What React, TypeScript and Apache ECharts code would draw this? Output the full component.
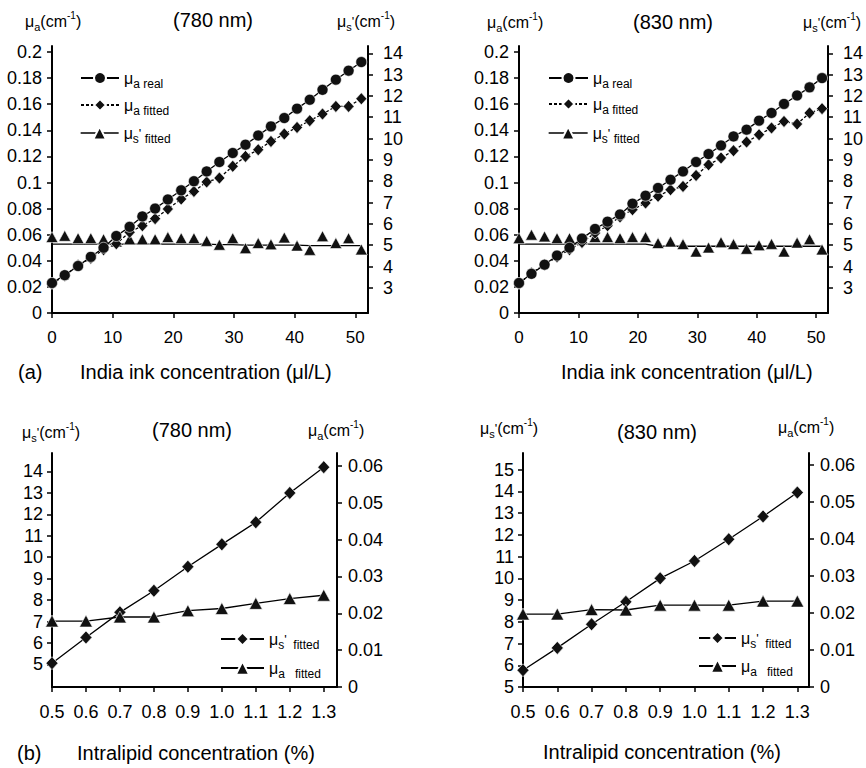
import React, { useEffect, useRef } from "react";
import * as echarts from "echarts";

// ---------- data ----------
const inkConc = [0, 2.1, 4.3, 6.4, 8.5, 10.6, 12.8, 14.9, 17, 19.1, 21.3, 23.4, 25.5, 27.6, 29.8, 31.9, 34, 36.1, 38.3, 40.4, 42.5, 44.6, 46.8, 48.9, 51];

const muaReal780 = [0.023, 0.029, 0.036, 0.043, 0.05, 0.059, 0.066, 0.074, 0.08, 0.087, 0.094, 0.101, 0.1085, 0.1157, 0.1226, 0.129, 0.136, 0.143, 0.1494, 0.1566, 0.1634, 0.171, 0.1788, 0.1857, 0.1923];
const muaFit780 = [0.0225, 0.0286, 0.0365, 0.042, 0.0485, 0.0531, 0.0618, 0.0669, 0.0723, 0.0797, 0.0873, 0.0932, 0.1004, 0.1034, 0.1124, 0.12, 0.1251, 0.1315, 0.1372, 0.1422, 0.1474, 0.1525, 0.1583, 0.1583, 0.1642];
const musFit780 = [5.38, 5.44, 5.33, 5.33, 5.28, 5.17, 5.28, 5.28, 5.28, 5.38, 5.33, 5.33, 5.2, 5.02, 5.33, 4.86, 5.1, 5.04, 5.36, 4.98, 4.78, 5.42, 5.1, 5.33, 4.8];
const musLine780 = [5.05, 5.05, 5.05, 5.05, 5.05, 5.05, 5.05, 5.05, 5.05, 5.05, 5.05, 5.05, 5.05, 5.03, 5.03, 5.0, 5.0, 5.0, 5.0, 5.0, 4.98, 4.98, 4.98, 4.98, 4.98];

const muaReal830 = [0.023, 0.03, 0.037, 0.044, 0.05, 0.057, 0.0644, 0.07, 0.0755, 0.0838, 0.0899, 0.0958, 0.1021, 0.1085, 0.1157, 0.1218, 0.1284, 0.1353, 0.1405, 0.1474, 0.1533, 0.1602, 0.1667, 0.1729, 0.18];
const muaFit830 = [0.0225, 0.0307, 0.037, 0.0429, 0.0485, 0.0541, 0.0613, 0.0669, 0.0736, 0.0792, 0.0843, 0.0894, 0.0945, 0.097, 0.1054, 0.1136, 0.1188, 0.1244, 0.131, 0.1366, 0.1418, 0.1468, 0.1448, 0.1533, 0.1566];
const musFit830 = [5.33, 5.49, 5.41, 5.33, 5.33, 5.28, 5.38, 5.38, 5.33, 5.38, 5.38, 5.1, 5.17, 5.05, 4.7, 4.89, 5.14, 5.05, 4.83, 5.0, 5.06, 4.7, 5.12, 5.28, 4.8];
const musLine830 = [5.05, 5.05, 5.05, 5.05, 5.05, 5.05, 5.05, 5.05, 5.05, 5.05, 5.05, 4.95, 4.95, 4.95, 4.95, 4.95, 4.95, 4.95, 4.95, 4.95, 4.95, 4.95, 4.95, 4.95, 4.95];

const lipidConc = [0.5, 0.6, 0.7, 0.8, 0.9, 1.0, 1.1, 1.2, 1.3];
const musFitLipid780 = [5.06, 6.26, 7.43, 8.44, 9.56, 10.6, 11.63, 13.0, 14.2];
const muaFitLipid780 = [0.0179, 0.0179, 0.019, 0.019, 0.0207, 0.0213, 0.0227, 0.024, 0.0249];
const musFitLipid830 = [5.77, 6.8, 7.89, 8.92, 10.0, 10.8, 11.8, 12.85, 13.95];
const muaFitLipid830 = [0.0197, 0.0197, 0.0209, 0.0208, 0.0221, 0.0221, 0.0221, 0.0232, 0.0232];

// tick labels
const inkTicks = [0, 10, 20, 30, 40, 50];
const muaInkTicks = [0, 0.02, 0.04, 0.06, 0.08, 0.1, 0.12, 0.14, 0.16, 0.18, 0.2];
const musInkTicks = [3, 4, 5, 6, 7, 8, 9, 10, 11, 12, 13, 14];
const lipidTicks = [0.5, 0.6, 0.7, 0.8, 0.9, 1.0, 1.1, 1.2, 1.3];
const musLipidTicks780 = [5, 6, 7, 8, 9, 10, 11, 12, 13, 14];
const musLipidTicks830 = [5, 6, 7, 8, 9, 10, 11, 12, 13, 14, 15];
const muaLipidTicks = [0, 0.01, 0.02, 0.03, 0.04, 0.05, 0.06];

// ---------- styling ----------
const FONT = "'Liberation Sans', Arial, sans-serif";
const BLACK = "#000";

const zip = (xs: number[], ys: number[]) => xs.map((x, i) => [x, ys[i]]);
const fmt2 = (v: number) => String(+(+v).toFixed(3));
const fmt1 = (v: number) => (+v).toFixed(1);

function xAxisCfg(gridIndex: number, min: number, max: number, ticks: number[], formatter: any, margin: number, fontSize: number) {
  return {
    type: "value",
    gridIndex,
    min,
    max,
    axisLine: { show: true, onZero: false, lineStyle: { color: BLACK, width: 2 } },
    axisTick: { show: true, length: 5, lineStyle: { color: BLACK, width: 1.5 }, customValues: ticks },
    axisLabel: { customValues: ticks, formatter, color: BLACK, fontSize, fontFamily: FONT, margin },
    splitLine: { show: false },
  };
}

function yAxisCfg(gridIndex: number, position: string, min: number, max: number, ticks: number[], formatter: any, margin: number) {
  return {
    type: "value",
    gridIndex,
    position,
    min,
    max,
    axisLine: { show: true, onZero: false, lineStyle: { color: BLACK, width: 2 } },
    axisTick: { show: true, length: 5, lineStyle: { color: BLACK, width: 1.5 }, customValues: ticks },
    axisLabel: { customValues: ticks, formatter, color: BLACK, fontSize: 18, fontFamily: FONT, margin },
    splitLine: { show: false },
  };
}

const legendRich = {
  m: { fontSize: 16, fontFamily: FONT, color: BLACK, lineHeight: 24, verticalAlign: "middle" },
  s: { fontSize: 12, fontFamily: FONT, color: BLACK, lineHeight: 12, verticalAlign: "bottom" },
  q: { fontSize: 13, fontFamily: FONT, color: BLACK, lineHeight: 24, verticalAlign: "middle" },
};

const legendLabels: Record<string, string> = {
  tl_real: "{m|μ}{s|a real}",
  tl_fit: "{m|μ}{s|a fitted}",
  tl_mus: "{m|μ}{s|s}{q|'}{s| fitted}",
  tr_real: "{m|μ}{s|a real}",
  tr_fit: "{m|μ}{s|a fitted}",
  tr_mus: "{m|μ}{s|s}{q|'}{s| fitted}",
  bl_mus: "{m|μ}{s|s}{q|'}{s|  fitted}",
  bl_mua: "{m|μ}{s|a   fitted}",
  br_mus: "{m|μ}{s|s}{q|'}{s|  fitted}",
  br_mua: "{m|μ}{s|a   fitted}",
};

function legendCfg(name: string, left: number, top: number, itemWidth: number, itemHeight: number, solidLine = false) {
  const cfg: any = {
    data: [name],
    left,
    top,
    orient: "vertical",
    itemWidth,
    itemHeight,
    selectedMode: false,
    padding: 0,
    formatter: (n: string) => legendLabels[n],
    textStyle: { rich: legendRich, color: BLACK },
  };
  if (solidLine) cfg.lineStyle = { width: 1.3, color: BLACK, type: "solid", opacity: 1 };
  return cfg;
}

const titleRich = {
  m: { fontSize: 16, fontFamily: FONT, fill: BLACK, lineHeight: 22, verticalAlign: "middle" },
  n: { fontSize: 16, fontFamily: FONT, fill: BLACK, lineHeight: 22, verticalAlign: "middle" },
  s: { fontSize: 11, fontFamily: FONT, fill: BLACK, lineHeight: 11, verticalAlign: "bottom" },
  p: { fontSize: 10, fontFamily: FONT, fill: BLACK, lineHeight: 10, verticalAlign: "top" },
  q: { fontSize: 13, fontFamily: FONT, fill: BLACK, lineHeight: 22, verticalAlign: "middle" },
};
const MUA_UNIT = "{m|μ}{s|a}{n|(cm}{p|-1}{n|)}";
const MUS_UNIT = "{m|μ}{s|s}{q|'}{n|(cm}{p|-1}{n|)}";

function richText(x: number, y: number, text: string, align = "left") {
  return { type: "text", x, y, style: { text, rich: titleRich, align, verticalAlign: "middle", fill: BLACK } };
}
function plainText(x: number, y: number, text: string, fontSize: number, align = "left") {
  return {
    type: "text",
    x,
    y,
    style: { text, fontSize, fontFamily: FONT, fill: BLACK, align, verticalAlign: "middle" },
  };
}

function lineSeries(name: string, xi: number, yi: number, data: number[][], symbol: string, symbolSize: any, dashed: any, extra: any = {}) {
  return {
    type: "line",
    name,
    xAxisIndex: xi,
    yAxisIndex: yi,
    data,
    symbol,
    symbolSize,
    showSymbol: true,
    lineStyle: { color: BLACK, width: 1.3, type: dashed },
    itemStyle: { color: "#111", borderColor: "#fff", borderWidth: 0.6 },
    emphasis: { disabled: true },
    z: 3,
    ...extra,
  };
}

function buildOption() {
  return {
    animation: false,
    backgroundColor: "#fff",
    grid: [
      { left: 52, top: 46, width: 316, height: 267 },
      { left: 519, top: 46, width: 315, height: 267 },
      { left: 52, top: 453, width: 285, height: 234 },
      { left: 523, top: 453, width: 286, height: 234 },
    ],
    xAxis: [
      xAxisCfg(0, 0, 52.1, inkTicks, (v: number) => String(v), 16, 17),
      xAxisCfg(1, 0, 52.0, inkTicks, (v: number) => String(v), 16, 17),
      xAxisCfg(2, 0.5, 1.339, lipidTicks, fmt1, 16, 18),
      xAxisCfg(3, 0.5, 1.334, lipidTicks, fmt1, 16, 18),
    ],
    yAxis: [
      yAxisCfg(0, "left", 0, 0.2046, muaInkTicks, fmt2, 10),
      yAxisCfg(0, "right", 1.82, 14.34, musInkTicks, (v: number) => String(v), 15),
      yAxisCfg(1, "left", 0, 0.2046, muaInkTicks, fmt2, 10),
      yAxisCfg(1, "right", 1.82, 14.34, musInkTicks, (v: number) => String(v), 15),
      yAxisCfg(2, "left", 3.95, 14.86, musLipidTicks780, (v: number) => String(v), 9),
      yAxisCfg(2, "right", 0, 0.0635, muaLipidTicks, fmt2, 11),
      yAxisCfg(3, "left", 5, 15.77, musLipidTicks830, (v: number) => String(v), 9),
      yAxisCfg(3, "right", 0, 0.0632, muaLipidTicks, fmt2, 11),
    ],
    legend: [
      legendCfg("tl_real", 80, 70, 38, 15),
      legendCfg("tl_fit", 80, 97, 38, 15),
      legendCfg("tl_mus", 80, 125, 38, 16, true),
      legendCfg("tr_real", 548, 70, 39, 15),
      legendCfg("tr_fit", 548, 96, 39, 15),
      legendCfg("tr_mus", 548, 125, 39, 16, true),
      legendCfg("bl_mus", 220, 631, 43, 16),
      legendCfg("bl_mua", 220, 660, 43, 17),
      legendCfg("br_mus", 698, 630, 37, 16),
      legendCfg("br_mua", 698, 658, 37, 17),
    ],
    series: [
      // (a) 780 nm
      lineSeries("baseTL", 0, 1, zip(inkConc, musLine780), "none", 0, "solid", { z: 2 }),
      lineSeries("tl_mus", 0, 1, zip(inkConc, musFit780), "triangle", [12, 11], "solid", { lineStyle: { width: 0, color: BLACK } }),
      lineSeries("tl_fit", 0, 0, zip(inkConc, muaFit780), "diamond", [11, 12], [3, 2]),
      lineSeries("tl_real", 0, 0, zip(inkConc, muaReal780), "circle", 11, "solid", { z: 4 }),
      // (a) 830 nm
      lineSeries("baseTR", 1, 3, zip(inkConc, musLine830), "none", 0, "solid", { z: 2 }),
      lineSeries("tr_mus", 1, 3, zip(inkConc, musFit830), "triangle", [12, 11], "solid", { lineStyle: { width: 0, color: BLACK } }),
      lineSeries("tr_fit", 1, 2, zip(inkConc, muaFit830), "diamond", [11, 12], [3, 2]),
      lineSeries("tr_real", 1, 2, zip(inkConc, muaReal830), "circle", 11, "solid", { z: 4 }),
      // (b) 780 nm
      lineSeries("bl_mus", 2, 4, zip(lipidConc, musFitLipid780), "diamond", [12, 13], "solid"),
      lineSeries("bl_mua", 2, 5, zip(lipidConc, muaFitLipid780), "triangle", [13, 12], "solid"),
      // (b) 830 nm
      lineSeries("br_mus", 3, 6, zip(lipidConc, musFitLipid830), "diamond", [12, 13], "solid"),
      lineSeries("br_mua", 3, 7, zip(lipidConc, muaFitLipid830), "triangle", [13, 12], "solid"),
    ],
    graphic: [
      // top-left
      richText(25, 21, MUA_UNIT),
      plainText(213, 20, "(780 nm)", 20, "center"),
      richText(337, 21, MUS_UNIT),
      plainText(18, 372, "(a)", 20),
      plainText(80, 372, "India ink concentration (μl/L)", 20),
      // top-right
      richText(487, 22, MUA_UNIT),
      plainText(673, 22, "(830 nm)", 20, "center"),
      richText(803, 22, MUS_UNIT),
      plainText(561, 372, "India ink concentration (μl/L)", 20),
      // bottom-left
      richText(22, 432, MUS_UNIT),
      plainText(192, 430, "(780 nm)", 20, "center"),
      richText(308, 430, MUA_UNIT),
      plainText(17, 753, "(b)", 20),
      plainText(77, 753, "Intralipid concentration (%)", 20),
      // bottom-right
      richText(480, 428, MUS_UNIT),
      plainText(657, 432, "(830 nm)", 20, "center"),
      richText(778, 427, MUA_UNIT),
      plainText(662, 752, "Intralipid concentration (%)", 20, "center"),
    ],
  };
}

export default function App() {
  const ref = useRef<HTMLDivElement>(null);
  useEffect(() => {
    if (!ref.current) return;
    const chart = echarts.init(ref.current, null, { renderer: "svg" });
    chart.setOption(buildOption() as any);
    return () => chart.dispose();
  }, []);
  return (
    <div
      ref={ref}
      style={{ position: "absolute", left: 0, top: 0, width: 866, height: 768, background: "#fff" }}
    />
  );
}
